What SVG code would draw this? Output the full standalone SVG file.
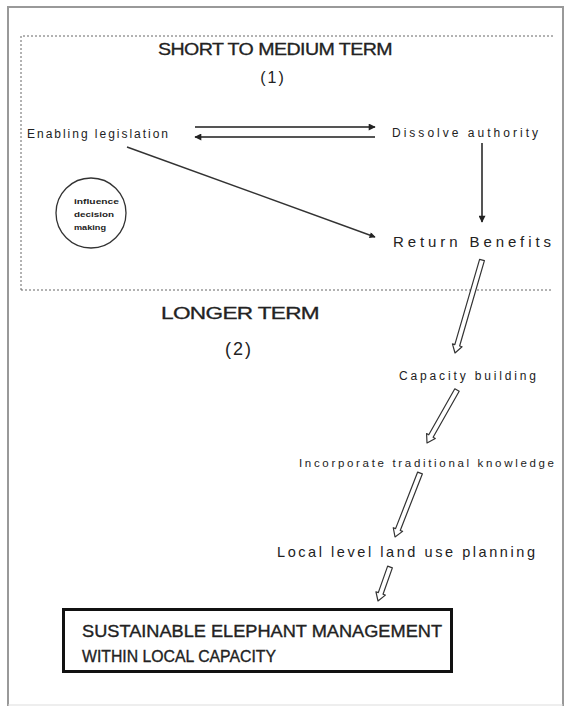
<svg xmlns="http://www.w3.org/2000/svg" width="568" height="712" viewBox="0 0 568 712">
<defs>
<style>
.t{font-family:"Liberation Sans",Arial,sans-serif;fill:#222}
.lbl{font-size:12px}
.ttl{font-size:17px;letter-spacing:-0.5px;stroke:#222;stroke-width:0.3}
.bx{stroke:#222;stroke-width:0.35}
.ln{stroke:#333;stroke-width:1.4;fill:none}
.dbl{stroke:#555;stroke-width:2;fill:none}
.hollow{fill:#fff;stroke:#333;stroke-width:1.2;stroke-linejoin:round}
.dash{stroke:#666;stroke-width:1;stroke-dasharray:2 2;fill:none}
</style>
<marker id="ah" viewBox="0 0 10 10" refX="9" refY="5" markerWidth="8" markerHeight="6" markerUnits="userSpaceOnUse" orient="auto">
<path d="M0,0 L10,5 L0,10 Z" fill="#222"/>
</marker>
<marker id="ah2" viewBox="0 0 10 10" refX="9" refY="5" markerWidth="12" markerHeight="7" markerUnits="userSpaceOnUse" orient="auto">
<path d="M0,0 L10,5 L0,10 Z" fill="#222"/>
</marker>
</defs>
<rect width="568" height="712" fill="#fff"/>
<g id="frame">
<path d="M8,706 L8,7 L563,7 L563,706" stroke="#999" stroke-width="2" fill="none"/>
<path d="M8,705 L563,705" stroke="#ddd" stroke-width="1"/>
<path class="dash" d="M21,290 L21,36 L553,36"/>
<path class="dash" d="M21,290 L553,290"/>
</g>
<g id="headings">
<text class="t ttl" x="275" y="55" text-anchor="middle" textLength="234" lengthAdjust="spacingAndGlyphs">SHORT TO MEDIUM TERM</text>
<text class="t" x="273" y="83" font-size="16" text-anchor="middle" letter-spacing="2">(1)</text>
<text class="t ttl" x="240" y="319" font-size="19" text-anchor="middle" textLength="158" lengthAdjust="spacingAndGlyphs">LONGER TERM</text>
<text class="t" x="239" y="355" font-size="18" text-anchor="middle" letter-spacing="2">(2)</text>
</g>
<g id="enabling">
<text class="t lbl" x="27" y="138" textLength="141" lengthAdjust="spacing">Enabling legislation</text>
</g>
<g id="dissolve">
<text class="t lbl" x="392" y="137" textLength="146" lengthAdjust="spacing">Dissolve authority</text>
</g>
<g id="return">
<text class="t" x="393" y="247" font-size="15" textLength="158" lengthAdjust="spacing">Return Benefits</text>
</g>
<g id="influence">
<circle cx="91" cy="213" r="35" fill="none" stroke="#333" stroke-width="1.3"/>
<text class="t" x="74" y="204" font-size="7" font-weight="bold" textLength="45" lengthAdjust="spacingAndGlyphs">influence</text>
<text class="t" x="74" y="217" font-size="7" font-weight="bold" textLength="40" lengthAdjust="spacingAndGlyphs">decision</text>
<text class="t" x="74" y="230" font-size="7" font-weight="bold" textLength="32" lengthAdjust="spacingAndGlyphs">making</text>
</g>
<g id="capacity">
<text class="t lbl" x="399" y="380" textLength="137" lengthAdjust="spacing">Capacity building</text>
</g>
<g id="incorporate">
<text class="t" x="299" y="467" font-size="11.5" textLength="255" lengthAdjust="spacing">Incorporate traditional knowledge</text>
</g>
<g id="landuse">
<text class="t" x="277" y="557" font-size="14.5" textLength="258" lengthAdjust="spacing">Local level land use planning</text>
</g>
<g id="sustainable">
<rect x="63.5" y="609.5" width="388" height="62" fill="#fff" stroke="#111" stroke-width="3"/>
<text class="t bx" x="82" y="637" font-size="17" textLength="360" lengthAdjust="spacingAndGlyphs">SUSTAINABLE ELEPHANT MANAGEMENT</text>
<text class="t bx" x="82" y="662" font-size="17" textLength="194" lengthAdjust="spacingAndGlyphs">WITHIN LOCAL CAPACITY</text>
</g>
<g id="connectors">
<line class="dbl" x1="195" y1="127" x2="375" y2="127" marker-end="url(#ah2)"/>
<line class="dbl" x1="375" y1="137" x2="195" y2="137" marker-end="url(#ah2)"/>
<line class="ln" x1="127" y1="147" x2="375" y2="237" marker-end="url(#ah)"/>
<line class="dbl" x1="482" y1="143" x2="482" y2="222" marker-end="url(#ah2)"/>
<polygon class="hollow" points="479.6,259.3 454.83,344.62 452.43,343.93 455,353 462.03,346.71 459.63,346.02 484.4,260.7"/>
<polygon class="hollow" points="454.82,388.77 428.76,434.81 426.59,433.58 427,443 435.29,438.5 433.12,437.27 459.18,391.23"/>
<polygon class="hollow" points="417.67,472.09 395.58,528.64 393.25,527.73 395,537 402.57,531.37 400.24,530.46 422.33,473.91"/>
<polygon class="hollow" points="387.64,566.17 378.3,592.63 375.95,591.8 378,601 385.37,595.12 383.02,594.29 392.36,567.83"/>
</g>
</svg>
